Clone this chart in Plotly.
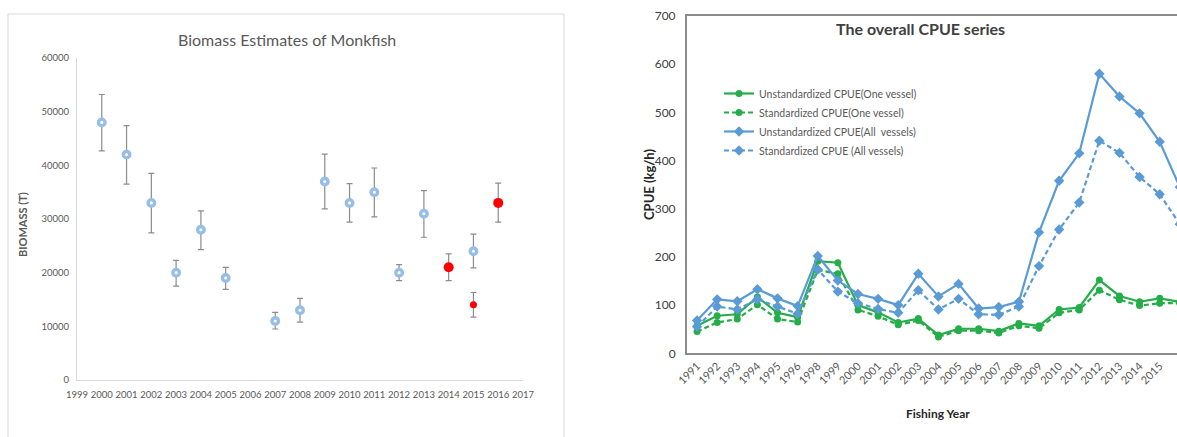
import plotly.graph_objects as go

# ---------------- Left chart data: Biomass estimates of monkfish ----------------
bio_years = [2000, 2001, 2002, 2003, 2004, 2005, 2007, 2008, 2009, 2010, 2011, 2012, 2013, 2015]
bio_values = [48000, 42000, 33000, 20000, 28000, 19000, 11000, 13000, 37000, 33000, 35000, 20000, 31000, 24000]
bio_upper = [53200, 47400, 38500, 22300, 31500, 21000, 12600, 15200, 42100, 36600, 39500, 21500, 35300, 27200]
bio_lower = [42700, 36500, 27400, 17500, 24300, 16900, 9500, 10800, 31900, 29400, 30400, 18500, 26600, 20900]

red_big_years = [2014, 2016]
red_big_values = [21000, 33000]
red_big_upper = [23500, 36700]
red_big_lower = [18500, 29400]

red_small_years = [2015]
red_small_values = [14000]
red_small_upper = [16300]
red_small_lower = [11700]

# ---------------- Right chart data: overall CPUE series ----------------
fishing_years = ["1991", "1992", "1993", "1994", "1995", "1996", "1998", "1999", "2000",
                 "2001", "2002", "2003", "2004", "2005", "2006", "2007", "2008", "2009",
                 "2010", "2011", "2012", "2013", "2014", "2015", "2016"]
unstd_one = [57, 78, 81, 117, 84, 75, 191, 188, 100, 85, 64, 72, 38, 51, 51, 46, 62, 57,
             91, 95, 152, 119, 107, 114, 107]
std_one = [45, 64, 71, 101, 71, 65, 173, 165, 90, 77, 59, 68, 34, 47, 47, 42, 57, 52,
           84, 90, 131, 111, 99, 104, 104]
unstd_all = [68, 112, 108, 133, 114, 98, 202, 151, 123, 113, 100, 165, 118, 144, 93, 96, 107, 251,
             358, 415, 580, 533, 498, 439, 345]
std_all = [55, 97, 91, 112, 97, 82, 174, 128, 104, 92, 84, 131, 91, 113, 81, 80, 97, 181,
           257, 313, 441, 416, 366, 330, 268]

W, H = 1177, 437
FONT = "Lato, Roboto, sans-serif"
GREEN = "#25AD4A"
BLUE = "#5B9BD5"


def px_x(x):
    return x / W


def px_y(y):
    return (H - y) / H


def diffs(vals, ref, sign):
    return [sign * (r - v) for v, r in zip(vals, ref)]


fig = go.Figure()

err_style = dict(type="data", symmetric=False, color="#8C8C8C", thickness=1.2, width=3)

fig.add_trace(go.Scatter(
    x=bio_years, y=bio_values, mode="markers", xaxis="x", yaxis="y", showlegend=False,
    marker=dict(symbol="circle", size=6.5, color="white", line=dict(color="#96BEE7", width=3.4)),
    error_y=dict(array=diffs(bio_values, bio_upper, 1), arrayminus=diffs(bio_values, bio_lower, -1), **err_style),
))
fig.add_trace(go.Scatter(
    x=red_big_years, y=red_big_values, mode="markers", xaxis="x", yaxis="y", showlegend=False,
    marker=dict(symbol="circle", size=10, color="#FF0000", line=dict(width=0)),
    error_y=dict(array=diffs(red_big_values, red_big_upper, 1), arrayminus=diffs(red_big_values, red_big_lower, -1), **err_style),
))
fig.add_trace(go.Scatter(
    x=red_small_years, y=red_small_values, mode="markers", xaxis="x", yaxis="y", showlegend=False,
    marker=dict(symbol="circle", size=7, color="#FF0000", line=dict(width=0)),
    error_y=dict(array=diffs(red_small_values, red_small_upper, 1), arrayminus=diffs(red_small_values, red_small_lower, -1), **err_style),
))

series = [
    ("Unstandardized CPUE(One vessel)", unstd_one, GREEN, "solid", "circle", 7),
    ("Standardized CPUE(One vessel)", std_one, GREEN, "5px,3px", "circle", 7),
    ("Unstandardized CPUE(All  vessels)", unstd_all, BLUE, "solid", "diamond", 8),
    ("Standardized CPUE (All vessels)", std_all, BLUE, "5px,3px", "diamond", 8),
]
for name, vals, col, dash, sym, sz in series:
    fig.add_trace(go.Scatter(
        x=fishing_years, y=vals, name=name, mode="lines+markers", xaxis="x2", yaxis="y2",
        line=dict(color=col, width=2.2, dash=dash),
        marker=dict(symbol=sym, size=sz, color=col),
    ))

fig.update_layout(
    width=W, height=H, autosize=False,
    margin=dict(l=0, r=0, t=0, b=0, pad=0, autoexpand=False),
    paper_bgcolor="white", plot_bgcolor="white",
    font=dict(family=FONT, color="#595959"),
    xaxis=dict(domain=[px_x(77), px_x(523)], range=[1999, 2017], tickmode="linear", tick0=1999, dtick=1,
               tickangle=0, automargin=False,
               showline=True, linecolor="#D9D9D9", linewidth=1, showgrid=False, zeroline=False,
               ticks="outside", ticklen=6, tickcolor="rgba(0,0,0,0)",
               tickfont=dict(size=9.5, color="#595959"), anchor="y"),
    yaxis=dict(domain=[px_y(380), px_y(58)], range=[0, 60000], tickmode="linear", dtick=10000,
               tickformat="d", showline=True, linecolor="#D9D9D9", linewidth=1, showgrid=False,
               zeroline=False, ticks="outside", ticklen=5, tickcolor="rgba(0,0,0,0)", automargin=False,
               tickfont=dict(size=9.5, color="#595959"), anchor="x"),
    xaxis2=dict(domain=[px_x(687), 1.0], type="category", range=[-0.5, 23.86], tickangle=-45,
                showline=True, mirror=True, linecolor="#8C8C8C", linewidth=2, showgrid=False,
                zeroline=False, ticks="", automargin=False,
                tickfont=dict(size=11, color="#595959"), anchor="y2"),
    yaxis2=dict(domain=[px_y(353.3), px_y(16)], range=[0, 700], tickmode="linear", dtick=100,
                showline=True, linecolor="#8C8C8C", linewidth=2, showgrid=False, zeroline=False,
                ticks="outside", ticklen=7, tickcolor="rgba(0,0,0,0)", automargin=False,
                tickfont=dict(size=12, color="#404040"), anchor="x2"),
    legend=dict(x=px_x(719), y=px_y(79), xanchor="left", yanchor="top", bgcolor="rgba(0,0,0,0)",
                font=dict(family=FONT, size=10.5, color="#595959"), tracegroupgap=0),
    shapes=[dict(type="rect", xref="paper", yref="paper", x0=px_x(8), x1=px_x(564), y0=-0.05, y1=px_y(14),
                 line=dict(color="#D9D9D9", width=1), fillcolor="rgba(0,0,0,0)", layer="below")],
    annotations=[
        dict(text="Biomass Estimates of Monkfish", x=px_x(287), y=px_y(39.5), xref="paper", yref="paper",
             xanchor="center", yanchor="middle", showarrow=False, font=dict(size=16, color="#595959")),
        dict(text="<b>BIOMASS (T)</b>", x=px_x(22), y=px_y(225), xref="paper", yref="paper",
             xanchor="center", yanchor="middle", showarrow=False, textangle=-90,
             font=dict(size=11, color="#595959")),
        dict(text="<b>The overall CPUE series</b>", x=px_x(920), y=px_y(28), xref="paper", yref="paper",
             xanchor="center", yanchor="middle", showarrow=False, font=dict(size=16, color="#404040")),
        dict(text="<b>CPUE (kg/h)</b>", x=px_x(649), y=px_y(184), xref="paper", yref="paper",
             xanchor="center", yanchor="middle", showarrow=False, textangle=-90,
             font=dict(size=13, color="#262626")),
        dict(text="<b>Fishing Year</b>", x=px_x(938), y=px_y(413), xref="paper", yref="paper",
             xanchor="center", yanchor="middle", showarrow=False, font=dict(size=12, color="#262626")),
    ],
)

fig.write_html("out.html", config={"displayModeBar": False},
               post_script="document.body.style.margin='0';document.body.style.overflow='hidden';")
